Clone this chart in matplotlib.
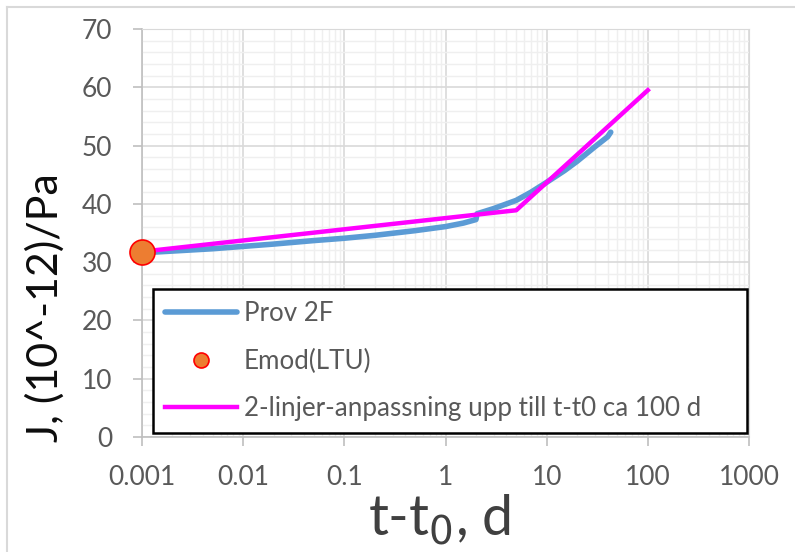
import numpy as np
import matplotlib.pyplot as plt
from matplotlib.lines import Line2D

# measured creep compliance, Prov 2F
t_prov = [0.001, 0.002, 0.005, 0.01, 0.02, 0.05, 0.1, 0.2, 0.5, 1.0, 1.5, 2.0,
          2.05, 3.0, 5.0, 7.0, 10.0, 15.0, 20.0, 30.0, 40.0, 43.0]
j_prov = [31.6, 31.9, 32.3, 32.7, 33.1, 33.7, 34.1, 34.6, 35.4, 36.1, 36.7, 37.3,
          38.3, 39.2, 40.6, 42.0, 43.7, 45.7, 47.3, 49.8, 51.5, 52.3]

# Emod(LTU)
t_emod = [0.001]
j_emod = [31.8]

# 2-line fit
t_fit = [0.001, 5.0, 100.0]
j_fit = [31.8, 38.9, 59.5]

xticks = [0.001, 0.01, 0.1, 1, 10, 100, 1000]
xticklabels = ["0.001", "0.01", "0.1", "1", "10", "100", "1000"]
yticks = [0, 10, 20, 30, 40, 50, 60, 70]

plt.rcParams["font.family"] = ["Lato", "DejaVu Sans"]

W, H = 795, 552
fig = plt.figure(figsize=(W / 100, H / 100), dpi=100)
# chart border (only top and left visible, image is cropped)
fig.add_artist(Line2D([7 / W, 1], [1 - 7 / H, 1 - 7 / H], color="#d9d9d9", lw=1.5))
fig.add_artist(Line2D([7 / W, 7 / W], [0, 1 - 7 / H], color="#d9d9d9", lw=1.5))

ax = fig.add_axes([142 / W, 1 - 437 / H, (749 - 142) / W, (437 - 29) / H])

ax.set_xscale("log")
ax.set_xlim(0.001, 1000)
ax.set_ylim(0, 70)

ax.plot(t_prov, j_prov, color="#5B9BD5", lw=4, solid_capstyle="round", label="Prov 2F", zorder=3)
ax.plot(t_emod, j_emod, "o", ms=18, mfc="#ED7D31", mec="#FF0000", mew=1.2,
        label="Emod(LTU)", zorder=5, clip_on=False)
ax.plot(t_fit, j_fit, color="#FF00FF", lw=3.2, label="2-linjer-anpassning upp till t-t0 ca 100 d", zorder=4)

ax.set_xticks(xticks)
ax.set_xticklabels(xticklabels)
ax.set_yticks(yticks)
ax.xaxis.set_minor_locator(plt.matplotlib.ticker.LogLocator(base=10, subs=np.arange(2, 10)))
ax.xaxis.set_minor_formatter(plt.NullFormatter())
ax.yaxis.set_minor_locator(plt.MultipleLocator(2))

ax.grid(which="major", color="#d9d9d9", lw=1.2)
ax.grid(which="minor", color="#efefef", lw=1.0)
ax.set_axisbelow(True)

for s in ["top", "right"]:
    ax.spines[s].set_color("#d9d9d9")
for s in ["left", "bottom"]:
    ax.spines[s].set_color("#bfbfbf")
    ax.spines[s].set_linewidth(1.2)

ax.tick_params(which="major", length=6.5, color="#bfbfbf", width=1.2, labelsize=19,
               labelcolor="#595959")
ax.tick_params(axis="y", pad=15)
ax.tick_params(axis="x", pad=14)
ax.tick_params(which="minor", length=0)

fig.text(440 / W, 1 - 535 / H, "t-t$_0$, d", fontsize=40, color="#404040",
         ha="center", va="baseline")
fig.text(45 / W, 1 - 308 / H, "J, (10^-12)/Pa", fontsize=31, color="#0d0d0d",
         ha="center", va="center", rotation=90)

leg = ax.legend(loc="upper left", mode="expand",
                bbox_to_anchor=(153 / W, 1 - 426 / H, (747 - 153) / W, (426 - 289) / H),
                bbox_transform=fig.transFigure, fontsize=18.7, frameon=True,
                fancybox=False, edgecolor="black", framealpha=1, labelspacing=0.88,
                handlelength=2.8, handletextpad=0.25, borderpad=0.45, markerscale=0.6,
                borderaxespad=0)
leg.get_frame().set_linewidth(1.8)
for txt in leg.get_texts():
    txt.set_color("#595959")

fig.savefig("out.png", dpi=100)
